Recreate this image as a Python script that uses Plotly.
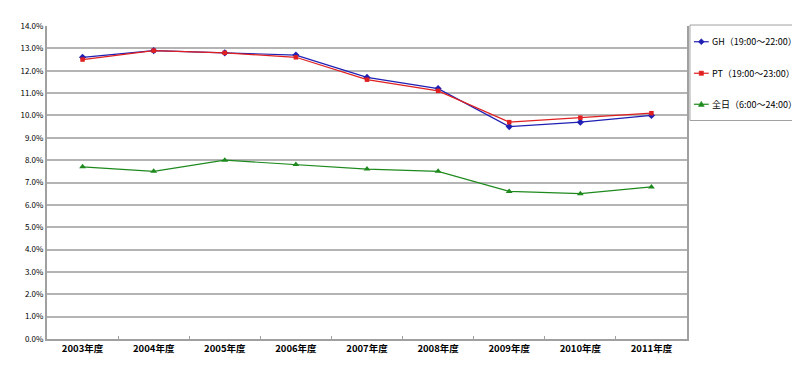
import plotly.graph_objects as go

years = ["2003年度", "2004年度", "2005年度", "2006年度", "2007年度",
         "2008年度", "2009年度", "2010年度", "2011年度"]
gh = [12.6, 12.9, 12.8, 12.7, 11.7, 11.2, 9.5, 9.7, 10.0]
pt = [12.5, 12.9, 12.8, 12.6, 11.6, 11.1, 9.7, 9.9, 10.1]
allday = [7.7, 7.5, 8.0, 7.8, 7.6, 7.5, 6.6, 6.5, 6.8]
names = ["GH（19:00～22:00）", "PT（19:00～23:00）", "全日（6:00～24:00）"]
colors = ["#1f1fb4", "#e02020", "#1e8a1e"]
symbols = ["diamond", "square", "triangle-up"]

FONT = "Noto Sans CJK JP"
OFF = 8  # default body margin of the page
W, H = 800 - OFF, 370 - OFF
# plot area in window pixels: left 39, right 687, top 21, bottom 339
L, T = 39 - OFF, 21 - OFF
R, B = W - (687 - OFF), H - (339 - OFF)
PW, PH = W - L - R, H - T - B


def px(x):  # window pixel -> paper
    return (x - OFF - L) / PW


def py(y):
    return (H - B - (y - OFF)) / PH


fig = go.Figure()
for name, vals, col, sym, sz in zip(names, [gh, pt, allday], colors, symbols, [5.5, 4.5, 6]):
    fig.add_trace(go.Scatter(x=years, y=vals, name=name, mode="lines+markers",
                             line=dict(color=col, width=1.2),
                             marker=dict(symbol=sym, size=sz, color=col),
                             showlegend=False))

# manual legend
shapes = [dict(type="rect", xref="paper", yref="paper",
               x0=px(690), x1=px(797), y0=py(117), y1=py(20),
               line=dict(color="#a0a0a0", width=1), fillcolor="white", layer="below")]
annotations = []
item_y = [37, 69, 100.5]
for name, col, sym, yy in zip(names, colors, symbols, item_y):
    shapes.append(dict(type="line", xref="paper", yref="paper",
                       x0=px(694), x1=px(709), y0=py(yy), y1=py(yy),
                       line=dict(color=col, width=1.2)))
    cx = 701.5
    if sym == "diamond":
        path = "M {} {} L {} {} L {} {} L {} {} Z".format(
            px(cx), py(yy - 3), px(cx + 3), py(yy), px(cx), py(yy + 3), px(cx - 3), py(yy))
    elif sym == "square":
        path = "M {} {} L {} {} L {} {} L {} {} Z".format(
            px(cx - 2.2), py(yy - 2.2), px(cx + 2.2), py(yy - 2.2),
            px(cx + 2.2), py(yy + 2.2), px(cx - 2.2), py(yy + 2.2))
    else:
        path = "M {} {} L {} {} L {} {} Z".format(
            px(cx), py(yy - 3), px(cx + 3), py(yy + 2.2), px(cx - 3), py(yy + 2.2))
    shapes.append(dict(type="path", xref="paper", yref="paper", path=path,
                       fillcolor=col, line=dict(color=col, width=0.5)))
    annotations.append(dict(xref="paper", yref="paper", x=px(710.5), y=py(yy),
                            xanchor="left", yanchor="middle", text=name, showarrow=False,
                            font=dict(family=FONT, size=9, color="black")))

fig.update_layout(
    width=W, height=H,
    margin=dict(l=L, r=R, t=T, b=B),
    paper_bgcolor="white", plot_bgcolor="white",
    font=dict(family=FONT, size=9, color="black"),
    showlegend=False,
    shapes=shapes, annotations=annotations,
    xaxis=dict(type="category", tickson="boundaries", ticks="inside", ticklen=3,
               tickcolor="#a0a0a0", showline=True, linecolor="#a0a0a0", linewidth=2,
               showgrid=False,
               tickfont=dict(size=9.5, family=FONT, color="black", weight="bold"),
               range=[-0.5, 8.5]),
    yaxis=dict(range=[0, 14], dtick=1, tickformat=".1f", ticksuffix="%",
               showgrid=True, gridcolor="#b4b4b4", gridwidth=1.5,
               showline=True, linecolor="#a0a0a0", linewidth=2, mirror=True,
               ticks="", zeroline=False,
               tickfont=dict(size=8, family=FONT, color="black")),
)

fig.write_html("out.html")
